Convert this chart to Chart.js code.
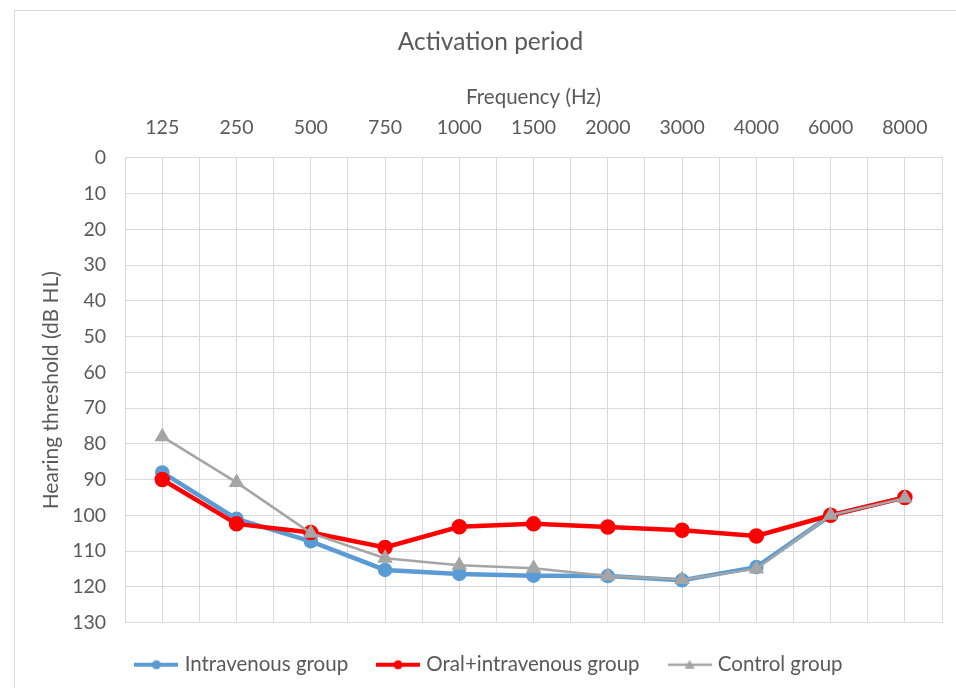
<!DOCTYPE html>
<html>
<head>
<meta charset="utf-8">
<script src="https://cdn.jsdelivr.net/npm/chart.js@4.4.1/dist/chart.umd.min.js"></script>
<style>
  html, body { margin: 0; padding: 0; background: #fff; overflow: hidden; }
  #frame { position: absolute; left: 14px; top: 10px; width: 1000px; height: 1000px; border: 1px solid #d9d9d9; }
  #wrap { position: absolute; left: 0; top: 0; width: 956px; height: 688px; }
</style>
</head>
<body>
<div id="frame"></div>
<div id="wrap"><canvas id="myChart"></canvas></div>
<script>
const categories = ['125', '250', '500', '750', '1000', '1500', '2000', '3000', '4000', '6000', '8000']
const intravenous = [88, 101, 107.3, 115.3, 116.4, 116.9, 117, 118.2, 114.5, 100, 95]
const oralIntravenous = [90, 102.4, 104.8, 109, 103.2, 102.4, 103.3, 104.2, 105.8, 100, 95]
const control = [78, 90.8, 105, 112, 114, 114.8, 117, 118, 115, 100, 95.2]
const yTicks = [0, 130, 10]

const textColor = '#595959'
const gridColor = '#d9d9d9'

// Excel style legend marker: short line with marker in the middle
function legendIcon(color, width, shape) {
    const c = document.createElement('canvas')
    c.width = 44
    c.height = 14
    const g = c.getContext('2d')
    g.strokeStyle = color
    g.fillStyle = color
    g.lineWidth = width
    g.beginPath()
    g.moveTo(0, 7)
    g.lineTo(44, 7)
    g.stroke()
    g.beginPath()
    if (shape === 'triangle') {
        g.moveTo(22, 2)
        g.lineTo(27, 11)
        g.lineTo(17, 11)
        g.closePath()
    } else {
        g.arc(22, 7, 4.5, 0, Math.PI * 2)
    }
    g.fill()
    return c
}

const toPoints = arr => arr.map((v, i) => ({ x: i, y: v }))

const data = {
    datasets: [{
        label: 'Intravenous group',
        data: toPoints(intravenous),
        borderColor: '#5b9bd5',
        backgroundColor: '#5b9bd5',
        borderWidth: 4.5,
        pointRadius: 5,
        pointStyle: 'circle',
        icon: legendIcon('#5b9bd5', 4, 'circle'),
        order: 3
    }, {
        label: 'Oral+intravenous group',
        data: toPoints(oralIntravenous),
        borderColor: '#ff0000',
        backgroundColor: '#ff0000',
        borderWidth: 4.5,
        pointRadius: 5.5,
        pointStyle: 'circle',
        icon: legendIcon('#ff0000', 4, 'circle'),
        order: 2
    }, {
        label: 'Control group',
        data: toPoints(control),
        borderColor: '#a5a5a5',
        backgroundColor: '#a5a5a5',
        borderWidth: 2.5,
        pointRadius: 6.5,
        pointStyle: 'triangle',
        icon: legendIcon('#a5a5a5', 2.5, 'triangle'),
        order: 1
    }]
}

let ctx = document.getElementById('myChart').getContext('2d')
let myChart = new Chart(ctx, {
    type: 'line',
    data: data,
    options: {
        responsive: true,
        maintainAspectRatio: false,
        animation: false,
        layout: { padding: { left: 39, right: 14, top: 0, bottom: 3 } },
        elements: { line: { tension: 0 } },
        plugins: {
            title: {
                display: true,
                text: 'Activation period',
                color: textColor,
                font: { family: 'Lato', size: 24.5, weight: 'normal' },
                padding: { top: 27, bottom: 14 }
            },
            legend: {
                position: 'bottom',
                labels: {
                    color: textColor,
                    font: { family: 'Lato', size: 20.5 },
                    usePointStyle: true,
                    pointStyleWidth: 36,
                    padding: 32,
                    generateLabels: chart => chart.data.datasets.map((ds, i) => ({
                        text: ds.label,
                        pointStyle: ds.icon,
                        fontColor: textColor,
                        datasetIndex: i,
                        lineWidth: 0,
                        strokeStyle: 'transparent',
                        fillStyle: 'transparent'
                    }))
                }
            },
            tooltip: { enabled: false }
        },
        scales: {
            x: {
                type: 'linear',
                position: 'top',
                min: -0.5,
                max: categories.length - 0.5,
                border: { color: gridColor },
                grid: { color: gridColor, drawTicks: true, tickLength: 15, tickColor: 'transparent' },
                ticks: {
                    stepSize: 0.5,
                    autoSkip: false,
                    maxRotation: 0,
                    padding: 3,
                    color: textColor,
                    font: { family: 'Lato', size: 19.5 },
                    callback: v => Number.isInteger(v) ? categories[v] : ''
                },
                title: {
                    display: true,
                    text: 'Frequency (Hz)',
                    color: textColor,
                    font: { family: 'Lato', size: 20.5 },
                    padding: { top: 14.5, bottom: 4 }
                }
            },
            y: {
                reverse: true,
                min: yTicks[0],
                max: yTicks[1],
                border: { color: gridColor },
                grid: { color: gridColor, drawTicks: true, tickLength: 16, tickColor: 'transparent' },
                ticks: {
                    stepSize: yTicks[2],
                    padding: 3,
                    color: textColor,
                    font: { family: 'Lato', size: 19.5 }
                },
                title: {
                    display: true,
                    text: 'Hearing threshold (dB HL)',
                    color: textColor,
                    font: { family: 'Lato', size: 21 },
                    padding: { top: 0, bottom: 5 }
                }
            }
        }
    }
})
</script>
</body>
</html>
